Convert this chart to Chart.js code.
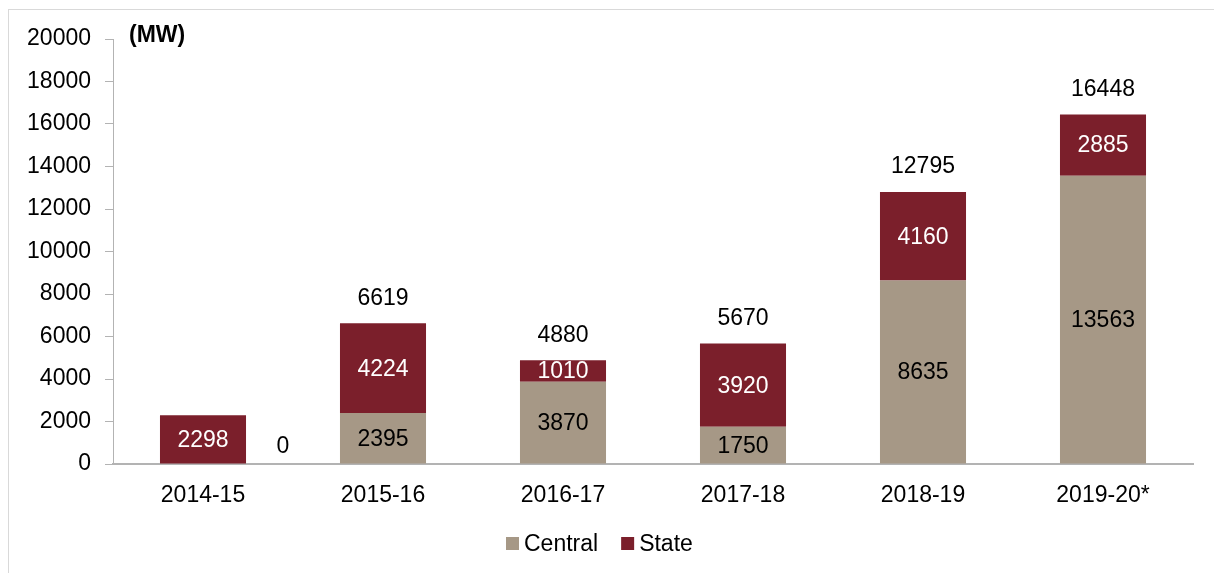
<!DOCTYPE html>
<html>
<head>
<meta charset="utf-8">
<title>Capacity addition</title>
<script src="https://cdn.jsdelivr.net/npm/chart.js@4/dist/chart.umd.min.js"></script>
<style>
  html, body { margin: 0; padding: 0; background: #fff; }
  canvas { display: block; }
</style>
</head>
<body>
<canvas id="capacityChart" width="1214" height="573"></canvas>
<script>
const years = ["2014-15", "2015-16", "2016-17", "2017-18", "2018-19", "2019-20*"];
const central = [0, 2395, 3870, 1750, 8635, 13563];
const state = [2298, 4224, 1010, 3920, 4160, 2885];
const totals = [null, 6619, 4880, 5670, 12795, 16448];

const FONT = '"Liberation Sans", Arial, sans-serif';
const FONT_SIZE = 23;
const axisGray = '#b3b3b3';

// values written on the segments, totals on top, unit label, legend and frame
const annotations = {
    id: 'annotations',
    beforeDraw(chart) {
        const ctx = chart.ctx;
        ctx.save();
        ctx.strokeStyle = '#d9d9d9';
        ctx.lineWidth = 1;
        ctx.strokeRect(8.5, 9.5, 1400, 800);
        ctx.restore();
    },
    afterDatasetsDraw(chart) {
        const ctx = chart.ctx;
        ctx.save();
        ctx.font = FONT_SIZE + 'px ' + FONT;
        ctx.textAlign = 'center';
        ctx.textBaseline = 'middle';

        chart.data.datasets.forEach((ds, di) => {
            const meta = chart.getDatasetMeta(di);
            meta.data.forEach((bar, i) => {
                const v = ds.data[i];
                ctx.fillStyle = ds.labelColor;
                if (v === 0) {
                    ctx.fillStyle = '#000';
                    ctx.fillText('0', bar.x + bar.width * 0.93, bar.base - 17);
                } else {
                    ctx.fillText(String(v), bar.x, (bar.y + bar.base) / 2 + 1);
                }
            });
        });

        const top = chart.getDatasetMeta(1);
        ctx.fillStyle = '#000';
        totals.forEach((t, i) => {
            if (t === null) return;
            ctx.fillText(String(t), top.data[i].x, top.data[i].y - 25);
        });

        ctx.font = 'bold ' + FONT_SIZE + 'px ' + FONT;
        ctx.textAlign = 'left';
        ctx.fillText('(MW)', 129, 36);

        // legend
        ctx.font = FONT_SIZE + 'px ' + FONT;
        let x = 506;
        chart.data.datasets.forEach(ds => {
            ctx.fillStyle = ds.backgroundColor;
            ctx.fillRect(x, 537, 13, 13);
            ctx.fillStyle = '#000';
            ctx.fillText(ds.label, x + 18, 545);
            x += 18 + ctx.measureText(ds.label).width + 23;
        });
        ctx.restore();
    }
};

new Chart(document.getElementById('capacityChart').getContext('2d'), {
    type: 'bar',
    data: {
        labels: years,
        datasets: [
            { label: 'Central', data: central, backgroundColor: '#a69886', labelColor: '#000' },
            { label: 'State', data: state, backgroundColor: '#7b1f2b', labelColor: '#fff' }
        ]
    },
    options: {
        responsive: false,
        animation: false,
        devicePixelRatio: 1,
        layout: { padding: { top: 39, right: 21, bottom: 0, left: 0 } },
        datasets: { bar: { categoryPercentage: 1, barPercentage: 0.478 } },
        plugins: {
            legend: { display: false },
            tooltip: { enabled: false }
        },
        scales: {
            x: {
                stacked: true,
                grid: { display: false },
                border: { display: true, color: axisGray, width: 2 },
                ticks: { color: '#000', font: { family: FONT, size: FONT_SIZE }, padding: 10, maxRotation: 0 },
                afterFit(scale) { scale.height = 109; }
            },
            y: {
                stacked: true,
                min: 0,
                max: 20000,
                ticks: {
                    stepSize: 2000,
                    color: '#000',
                    font: { family: FONT, size: FONT_SIZE },
                    padding: 14,
                    callback: v => String(v)
                },
                grid: { drawOnChartArea: false, drawTicks: true, tickLength: 8, color: axisGray },
                border: { display: true, color: axisGray, width: 1 },
                afterFit(scale) { scale.width = 113; }
            }
        }
    },
    plugins: [annotations]
});
</script>
</body>
</html>
